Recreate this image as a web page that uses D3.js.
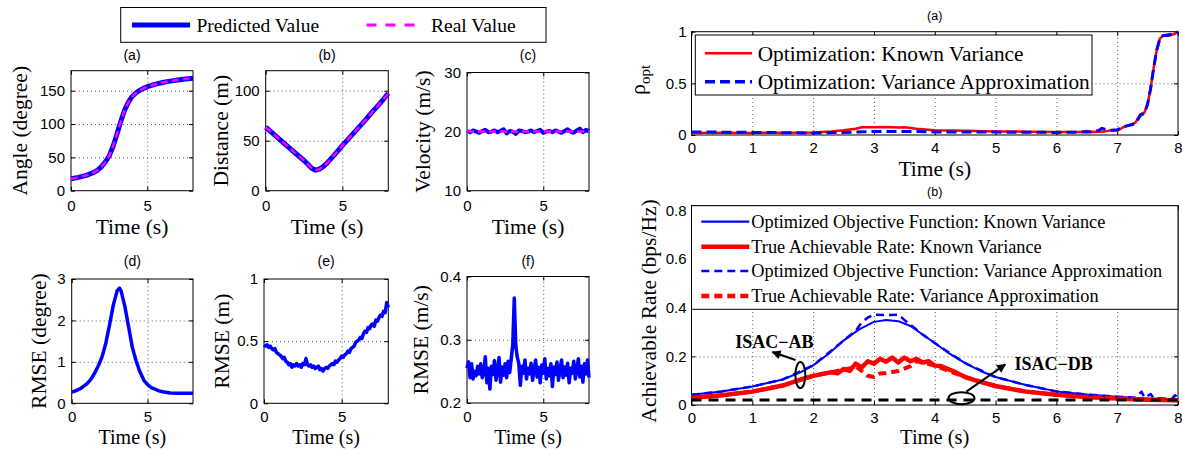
<!DOCTYPE html>
<html>
<head>
<meta charset="utf-8">
<script src="https://cdn.jsdelivr.net/npm/d3@7"></script>
<style>
  body { margin: 0; background: #fff; }
  svg { display: block; }
  .axis text { font-family: "Liberation Sans", Arial, sans-serif; font-size: 15px; fill: #000; }
  .axis line { stroke: #000; }
  .grid line { stroke: #333; stroke-width: 0.8; stroke-dasharray: 1,3; }
  .serif { font-family: "Liberation Serif", "Times New Roman", serif; fill: #000; }
  .sans { font-family: "Liberation Sans", Arial, sans-serif; fill: #000; }
</style>
</head>
<body>
<div id="container"></div>
<script>
// ---------- data ----------
var tGrid02 = [0,0.2,0.4,0.6,0.8,1,1.2,1.4,1.6,1.8,2,2.2,2.4,2.6,2.8,3,3.2,3.4,3.6,3.8,4,
  4.2,4.4,4.6,4.8,5,5.2,5.4,5.6,5.8,6,6.2,6.4,6.6,6.8,7,7.2,7.4,7.6,7.8,8];
var tFine = [0,0.1,0.2,0.3,0.4,0.5,0.6,0.7,0.8,0.9,1,1.1,1.2,1.3,1.4,1.5,1.6,1.7,1.8,1.9,
  2,2.1,2.2,2.3,2.4,2.5,2.6,2.7,2.8,2.9,3,3.1,3.2,3.3,3.4,3.5,3.6,3.7,3.8,3.9,
  4,4.1,4.2,4.3,4.4,4.5,4.6,4.7,4.8,4.9,5,5.1,5.2,5.3,5.4,5.5,5.6,5.7,5.8,5.9,
  6,6.1,6.2,6.3,6.4,6.5,6.6,6.7,6.8,6.9,7,7.1,7.2,7.3,7.4,7.5,7.6,7.7,7.8,7.9,8];

// (a) angle
var tAngle = [0,0.5,1,1.5,1.75,2,2.25,2.5,2.75,3,3.25,3.5,3.75,4,4.25,4.5,4.75,5,5.5,6,6.5,7,7.5,8];
var angleReal = [18,20,23,27.5,31,36,43,52,66,84,103,120,132,141,146.5,150.5,153.5,156,159.5,162.3,164.4,166.1,167.5,168.7];
var anglePred = [18,20,23,27.5,31,36,43,52,66,84,103,120,132,141,146.5,150.5,153.5,156,159.5,162.3,164.4,166.1,167.5,168.7];

// (b) distance
var tDist = [0,0.5,1,1.5,2,2.5,2.75,3,3.25,3.5,3.75,4,4.5,5,5.5,6,6.5,7,7.5,8];
var distReal = [63.5,56.8,50.1,43.4,36.7,30.2,26.5,22.5,20.5,21.5,24,27.5,36,45,53.5,62,70.5,79.5,88,97];
var distPred = [63.5,56.8,50.1,43.4,36.7,30.2,26.5,22.5,20.5,21.5,24,27.5,36,45,53.5,62,70.5,79.5,88,97.5];

// (c) velocity
var tVelReal = [0,8];
var velReal = [20,20];
var velPred = [20.1,19.9,20.2,20.0,19.8,20.1,20.3,19.9,20.0,20.2,19.9,20.1,20.4,19.7,20.1,20.0,19.6,20.2,20.1,19.9,
  20.0,20.2,19.9,20.1,20.3,19.8,20.0,20.1,19.9,20.2,20.0,19.8,20.1,20.4,20.0,19.8,20.2,20.5,19.9,20.3,20.1];

// (d) RMSE angle
var tRmseDeg = [0,0.25,0.5,0.75,1,1.25,1.5,1.75,2,2.25,2.5,2.75,3,3.15,3.25,3.5,3.75,4,4.25,4.5,4.75,5,5.25,5.5,5.75,6,6.5,7,7.5,8];
var rmseDeg = [0.27,0.3,0.34,0.4,0.47,0.57,0.72,0.9,1.12,1.45,1.9,2.38,2.72,2.78,2.72,2.35,1.85,1.35,1.02,0.76,0.56,0.45,0.38,0.34,0.3,0.28,0.25,0.24,0.24,0.24];

// (e) RMSE distance
var rmseDist = [.47,.46,.47,.45,.46,.44,.43,.44,.41,.40,
  .39,.38,.36,.37,.34,.33,.31,.32,.29,.31,
  .30,.32,.30,.31,.29,.32,.31,.36,.31,.30,
  .31,.29,.30,.28,.29,.30,.27,.28,.26,.28,
  .29,.28,.30,.31,.32,.31,.34,.33,.35,.36,
  .38,.37,.39,.40,.42,.41,.44,.45,.46,.49,
  .50,.51,.53,.52,.56,.58,.57,.61,.60,.63,
  .64,.62,.67,.66,.69,.71,.70,.74,.73,.81,
  .77];

// (f) RMSE velocity
var rmseVel = [.255,.265,.240,.262,.238,.250,.243,.258,.246,.262,
  .240,.248,.273,.232,.255,.222,.258,.245,.267,.236,
  .250,.272,.233,.257,.244,.262,.240,.266,.248,.270,
  .292,.366,.290,.272,.262,.228,.258,.247,.268,.238,
  .255,.246,.263,.236,.252,.268,.241,.256,.232,.260,
  .247,.270,.238,.255,.243,.262,.226,.257,.245,.265,
  .236,.252,.268,.240,.257,.244,.263,.232,.255,.247,
  .266,.238,.252,.270,.241,.258,.233,.262,.246,.268,
  .240];

// right (a) rho_opt
var tRhoKnown = [0,0.5,1,1.5,2,2.3,2.5,2.7,2.8,3,3.2,3.4,3.5,3.7,4,4.5,5,5.5,6,6.4,6.5,6.6,6.8,6.9,7,7.1,7.2,7.3,7.38,7.45,7.5,7.55,7.6,7.65,7.7,7.75,7.85,7.95,8];
var rhoKnown = [0.02,0.022,0.02,0.022,0.025,0.035,0.045,0.06,0.075,0.075,0.078,0.072,0.075,0.06,0.045,0.04,0.035,0.032,0.03,0.03,0.038,0.03,0.035,0.045,0.04,0.075,0.095,0.12,0.2,0.22,0.3,0.45,0.65,0.82,0.93,0.96,0.96,0.98,1.0];
var tRhoApprox = [0,1,2,2.5,3,3.5,4,5,6,6.6,6.7,6.75,6.82,6.9,7,7.1,7.2,7.3,7.38,7.45,7.5,7.55,7.6,7.65,7.7,7.75,7.85,7.95,8];
var rhoApprox = [0.03,0.025,0.02,0.025,0.035,0.035,0.03,0.028,0.025,0.03,0.045,0.065,0.05,0.045,0.05,0.08,0.095,0.11,0.19,0.21,0.3,0.45,0.65,0.82,0.93,0.96,0.97,0.98,1.0];

// right (b) achievable rate
var tObjKnown = [0,0.5,1,1.5,1.8,2,2.25,2.5,2.75,3,3.2,3.4,3.6,3.8,4,4.25,4.5,4.75,5,5.5,6,6.5,7,7.5,8];
var objKnown = [0.042,0.056,0.076,0.105,0.135,0.163,0.21,0.265,0.31,0.342,0.35,0.345,0.325,0.29,0.255,0.21,0.172,0.14,0.115,0.082,0.056,0.043,0.034,0.027,0.023];
var tRateKnown = [0,0.5,1,1.5,1.8,2,2.1,2.2,2.3,2.4,2.5,2.6,2.7,2.8,2.9,3,3.1,3.2,3.3,3.4,3.5,3.6,3.7,3.8,3.9,4,4.1,4.2,4.3,4.5,4.75,5,5.5,6,6.5,7,7.5,8];
var rateKnown = [0.03,0.04,0.055,0.08,0.105,0.12,0.125,0.13,0.135,0.13,0.148,0.14,0.17,0.155,0.18,0.17,0.19,0.178,0.195,0.175,0.195,0.18,0.19,0.175,0.18,0.162,0.16,0.15,0.14,0.115,0.095,0.078,0.055,0.042,0.033,0.027,0.022,0.02];
var tObjApprox = [0,0.5,1,1.5,2,2.5,2.7,2.8,2.9,3,3.2,3.4,3.5,3.6,3.8,4,4.5,5,5.5,6,6.5,7,7.3,7.4,7.45,7.55,7.6,7.9,7.95,8];
var objApprox = [0.042,0.056,0.076,0.105,0.163,0.265,0.305,0.34,0.36,0.372,0.37,0.372,0.35,0.33,0.29,0.255,0.172,0.115,0.082,0.056,0.043,0.034,0.03,0.055,0.03,0.045,0.028,0.025,0.04,0.03];
var tRateApprox = [0,0.5,1,1.5,2,2.5,2.6,2.7,2.8,2.9,3,3.1,3.2,3.3,3.4,3.5,3.6,3.7,3.8,4,4.5,5,5.5,6,6.5,7,7.5,8];
var rateApprox = [0.03,0.04,0.055,0.08,0.12,0.145,0.15,0.16,0.14,0.12,0.115,0.13,0.132,0.136,0.14,0.15,0.16,0.18,0.175,0.162,0.115,0.078,0.055,0.042,0.033,0.027,0.022,0.02];
var tDb = [0,8];
var rateDb = [0.021,0.021];

var leftXTicks = [0,5];
var rightXTicks = [0,1,2,3,4,5,6,7,8];

// ---------- layout ----------
var svg = d3.select("#container").append("svg")
  .attr("width", 1182).attr("height", 449);

svg.append("defs").append("marker")
  .attr("id", "arrow")
  .attr("viewBox", "0 0 10 10")
  .attr("refX", 9).attr("refY", 5)
  .attr("markerUnits", "userSpaceOnUse")
  .attr("markerWidth", 10).attr("markerHeight", 9)
  .attr("orient", "auto")
  .append("path").attr("d", "M0,0 L10,5 L0,10 z").attr("fill", "#000");

function makeAxes(o) {
  var x = d3.scaleLinear().domain(o.xd).range([o.l, o.r]);
  var y = d3.scaleLinear().domain(o.yd).range([o.b, o.t]);
  var g = svg.append("g");
  var xIn = o.xt.filter(function(v) { return v > o.xd[0] && v < o.xd[1]; });
  var yIn = o.yt.filter(function(v) { return v > o.yd[0] && v < o.yd[1]; });

  // grid
  g.append("g").attr("class", "grid")
    .attr("transform", "translate(0," + o.b + ")")
    .call(d3.axisBottom(x).tickValues(xIn).tickSize(-(o.b - o.t)).tickFormat(""))
    .select(".domain").remove();
  g.append("g").attr("class", "grid")
    .attr("transform", "translate(" + o.l + ",0)")
    .call(d3.axisLeft(y).tickValues(yIn).tickSize(-(o.r - o.l)).tickFormat(""))
    .select(".domain").remove();

  var fmt = d3.format("~g");
  var bx = g.append("g").attr("class", "axis")
    .attr("transform", "translate(0," + o.b + ")")
    .call(d3.axisBottom(x).tickValues(o.xt).tickSize(-4).tickPadding(o.xPad).tickFormat(fmt));
  bx.select(".domain").remove();
  var ly = g.append("g").attr("class", "axis")
    .attr("transform", "translate(" + o.l + ",0)")
    .call(d3.axisLeft(y).tickValues(o.yt).tickSize(-4).tickPadding(o.yPad).tickFormat(fmt));
  ly.select(".domain").remove();
  g.append("g").attr("class", "axis")
    .attr("transform", "translate(0," + o.t + ")")
    .call(d3.axisTop(x).tickValues(o.xt).tickSize(-4).tickFormat(""))
    .select(".domain").remove();
  g.append("g").attr("class", "axis")
    .attr("transform", "translate(" + o.r + ",0)")
    .call(d3.axisRight(y).tickValues(o.yt).tickSize(-4).tickFormat(""))
    .select(".domain").remove();

  g.append("rect")
    .attr("x", o.l).attr("y", o.t)
    .attr("width", o.r - o.l).attr("height", o.b - o.t)
    .attr("fill", "none").attr("stroke", "#000").attr("stroke-width", 1);

  // labels
  g.append("text").attr("class", "serif")
    .attr("x", (o.l + o.r) / 2).attr("y", o.xLabelY)
    .attr("text-anchor", "middle").style("font-size", (o.xLabelSize || 21.5) + "px")
    .text("Time (s)");
  if (o.yLabel) {
    g.append("text").attr("class", "serif")
      .attr("transform", "translate(" + o.yLabelX + "," + (o.yLabelCY || (o.t + o.b) / 2) + ") rotate(-90)")
      .attr("text-anchor", "middle").style("font-size", "21.5px")
      .text(o.yLabel);
  }
  g.append("text").attr("class", "sans")
    .attr("x", (o.l + o.r) / 2).attr("y", o.titleY)
    .attr("text-anchor", "middle").style("font-size", o.titleSize + "px")
    .text(o.title);

  return { x: x, y: y, g: g };
}

function drawLine(ax, ts, vs, color, width, dash) {
  var pts = ts.map(function(t, i) { return [t, vs[i]]; });
  var p = ax.g.append("path").datum(pts)
    .attr("fill", "none")
    .attr("stroke", color)
    .attr("stroke-width", width)
    .attr("stroke-linejoin", "round")
    .attr("d", d3.line().x(function(d) { return ax.x(d[0]); }).y(function(d) { return ax.y(d[1]); }));
  if (dash) p.attr("stroke-dasharray", dash);
  return p;
}

var BLUE = "#0000ff", MAGENTA = "#ff00ff", RED = "#ff0000";

// ---------- left block ----------
var axA = makeAxes({ l: 71, r: 193, t: 70.7, b: 190.7, xd: [0, 8], yd: [0, 180], xt: leftXTicks, yt: [0, 50, 100, 150],
  xPad: 10, yPad: 6, xLabelY: 234, yLabel: "Angle (degree)", yLabelX: 27, title: "(a)", titleY: 60, titleSize: 14 });
drawLine(axA, tAngle, anglePred, BLUE, 5);
drawLine(axA, tAngle, angleReal, MAGENTA, 2.5, "7,4");

var axB = makeAxes({ l: 265.7, r: 388.3, t: 70.7, b: 190.7, xd: [0, 8], yd: [0, 120], xt: leftXTicks, yt: [0, 50, 100],
  xPad: 10, yPad: 6, xLabelY: 234, yLabel: "Distance (m)", yLabelX: 228, title: "(b)", titleY: 60, titleSize: 14 });
drawLine(axB, tDist, distPred, BLUE, 5);
drawLine(axB, tDist, distReal, MAGENTA, 2.5, "7,4");

var axC = makeAxes({ l: 467, r: 589, t: 72.5, b: 190.7, xd: [0, 8], yd: [10, 30], xt: leftXTicks, yt: [10, 20, 30],
  xPad: 10, yPad: 6, xLabelY: 234, yLabel: "Velocity (m/s)", yLabelX: 430, title: "(c)", titleY: 60, titleSize: 14 });
drawLine(axC, tGrid02, velPred, BLUE, 4);
drawLine(axC, tVelReal, velReal, MAGENTA, 2.5, "7,4");

var axD = makeAxes({ l: 71.7, r: 193, t: 279, b: 403.3, xd: [0, 8], yd: [0, 3], xt: leftXTicks, yt: [0, 1, 2, 3],
  xPad: 8, yPad: 6, xLabelY: 444, xLabelSize: 20, yLabel: "RMSE (degree)", yLabelX: 45.5, title: "(d)", titleY: 266, titleSize: 14 });
drawLine(axD, tRmseDeg, rmseDeg, BLUE, 3.5);

var axE = makeAxes({ l: 264, r: 388.3, t: 279, b: 403.3, xd: [0, 8], yd: [0, 1], xt: leftXTicks, yt: [0, 0.5, 1],
  xPad: 8, yPad: 6, xLabelY: 444, xLabelSize: 20, yLabel: "RMSE (m)", yLabelX: 229, title: "(e)", titleY: 266, titleSize: 14 });
drawLine(axE, tFine, rmseDist, BLUE, 3.5);

var axF = makeAxes({ l: 467, r: 589, t: 276.5, b: 403, xd: [0, 8], yd: [0.2, 0.4], xt: leftXTicks, yt: [0.2, 0.3, 0.4],
  xPad: 8, yPad: 6, xLabelY: 444, xLabelSize: 20, yLabel: "RMSE (m/s)", yLabelX: 427.5, title: "(f)", titleY: 266, titleSize: 14 });
drawLine(axF, tFine, rmseVel, BLUE, 3.5);

// top legend
var lg = svg.append("g");
lg.append("rect").attr("x", 120.7).attr("y", 7.5).attr("width", 425.3).attr("height", 34.8)
  .attr("fill", "#fff").attr("stroke", "#000");
lg.append("line").attr("x1", 132).attr("x2", 190).attr("y1", 25).attr("y2", 25)
  .attr("stroke", BLUE).attr("stroke-width", 5);
lg.append("text").attr("class", "serif").attr("x", 196.5).attr("y", 31.5).style("font-size", "19.5px").text("Predicted Value");
lg.append("line").attr("x1", 366.5).attr("x2", 415).attr("y1", 25).attr("y2", 25)
  .attr("stroke", MAGENTA).attr("stroke-width", 3).attr("stroke-dasharray", "10,9");
lg.append("text").attr("class", "serif").attr("x", 431).attr("y", 31.5).style("font-size", "19.5px").text("Real Value");

// ---------- right block ----------
var axR1 = makeAxes({ l: 691.5, r: 1178, t: 31.7, b: 135, xd: [0, 8], yd: [0, 1], xt: rightXTicks, yt: [0, 0.5, 1],
  xPad: 7.5, yPad: 5, xLabelY: 176, yLabel: null, title: "(a)", titleY: 19.5, titleSize: 12.5 });
drawLine(axR1, tRhoKnown, rhoKnown, RED, 2.5);
drawLine(axR1, tRhoApprox, rhoApprox, BLUE, 3, "10,5");

axR1.g.append("text").attr("class", "serif")
  .attr("transform", "translate(645," + 80 + ") rotate(-90)")
  .attr("text-anchor", "middle")
  .call(function(t) {
    t.append("tspan").style("font-size", "22px").text("ρ");
    t.append("tspan").style("font-size", "15px").attr("dy", 5).text("opt");
  });

var lgR1 = axR1.g.append("g");
lgR1.append("rect").attr("x", 695.3).attr("y", 35).attr("width", 396.7).attr("height", 60)
  .attr("fill", "#fff").attr("stroke", "#000");
lgR1.append("line").attr("x1", 705).attr("x2", 752).attr("y1", 53.3).attr("y2", 53.3)
  .attr("stroke", RED).attr("stroke-width", 2.5);
lgR1.append("text").attr("class", "serif").attr("x", 757.7).attr("y", 60.5).style("font-size", "21.3px")
  .text("Optimization: Known Variance");
lgR1.append("line").attr("x1", 705).attr("x2", 752).attr("y1", 81.7).attr("y2", 81.7)
  .attr("stroke", BLUE).attr("stroke-width", 3.5).attr("stroke-dasharray", "10,5");
lgR1.append("text").attr("class", "serif").attr("x", 757.7).attr("y", 88.9).style("font-size", "21.3px")
  .text("Optimization: Variance Approximation");

var axR2 = makeAxes({ l: 691.5, r: 1178, t: 205.7, b: 405, xd: [0, 8], yd: [0, 0.82], xt: rightXTicks, yt: [0, 0.2, 0.4, 0.6, 0.8],
  xPad: 7, yPad: 5, xLabelY: 444, xLabelSize: 20.5, yLabel: "Achievable Rate (bps/Hz)", yLabelX: 656, yLabelCY: 311, title: "(b)", titleY: 196, titleSize: 12.5 });
drawLine(axR2, tObjKnown, objKnown, BLUE, 2);
drawLine(axR2, tRateKnown, rateKnown, RED, 4.5);
drawLine(axR2, tObjApprox, objApprox, BLUE, 2.5, "8,5");
drawLine(axR2, tRateApprox, rateApprox, RED, 4, "8,5");
drawLine(axR2, tDb, rateDb, "#000", 3, "10,7");

// legend (b)
var legR2 = [
  { name: "Optimized Objective Function: Known Variance", color: BLUE, w: 2.2, dash: null },
  { name: "True Achievable Rate: Known Variance", color: RED, w: 4.5, dash: null },
  { name: "Optimized Objective Function: Variance Approximation", color: BLUE, w: 2.5, dash: "8,5" },
  { name: "True Achievable Rate: Variance Approximation", color: RED, w: 4.5, dash: "8,5" }
];
var rowY = [221.7, 246.7, 271, 296];
var lgR2 = axR2.g.append("g");
lgR2.append("rect").attr("x", 691.5).attr("y", 205.7).attr("width", 486.5).attr("height", 103.6)
  .attr("fill", "#fff").attr("stroke", "#000");
legR2.forEach(function(d, i) {
  var ln = lgR2.append("line").attr("x1", 701.3).attr("x2", 749.3).attr("y1", rowY[i]).attr("y2", rowY[i])
    .attr("stroke", d.color).attr("stroke-width", d.w);
  if (d.dash) ln.attr("stroke-dasharray", d.dash);
  lgR2.append("text").attr("class", "serif").attr("x", 751.3).attr("y", rowY[i] + 6.2)
    .style("font-size", "18.3px").text(d.name);
});

// annotations
function annotate(ax, label, textT, textV, ellT, ellV, rx, ry, a0, a1) {
  ax.g.append("text").attr("class", "serif")
    .attr("x", ax.x(textT)).attr("y", ax.y(textV))
    .style("font-size", "18px").style("font-weight", "bold").text(label);
  ax.g.append("ellipse")
    .attr("cx", ax.x(ellT)).attr("cy", ax.y(ellV)).attr("rx", rx).attr("ry", ry)
    .attr("fill", "none").attr("stroke", "#000").attr("stroke-width", 2);
  ax.g.append("line")
    .attr("x1", ax.x(a0[0])).attr("y1", ax.y(a0[1]))
    .attr("x2", ax.x(a1[0])).attr("y2", ax.y(a1[1]))
    .attr("stroke", "#000").attr("stroke-width", 2)
    .attr("marker-end", "url(#arrow)");
}
annotate(axR2, "ISAC\u2212AB", 0.72, 0.235, 1.79, 0.123, 5, 13, [1.71, 0.185], [1.33, 0.218]);
annotate(axR2, "ISAC\u2212DB", 5.31, 0.146, 4.44, 0.028, 13, 6, [4.52, 0.055], [5.16, 0.167]);
</script>
</body>
</html>
